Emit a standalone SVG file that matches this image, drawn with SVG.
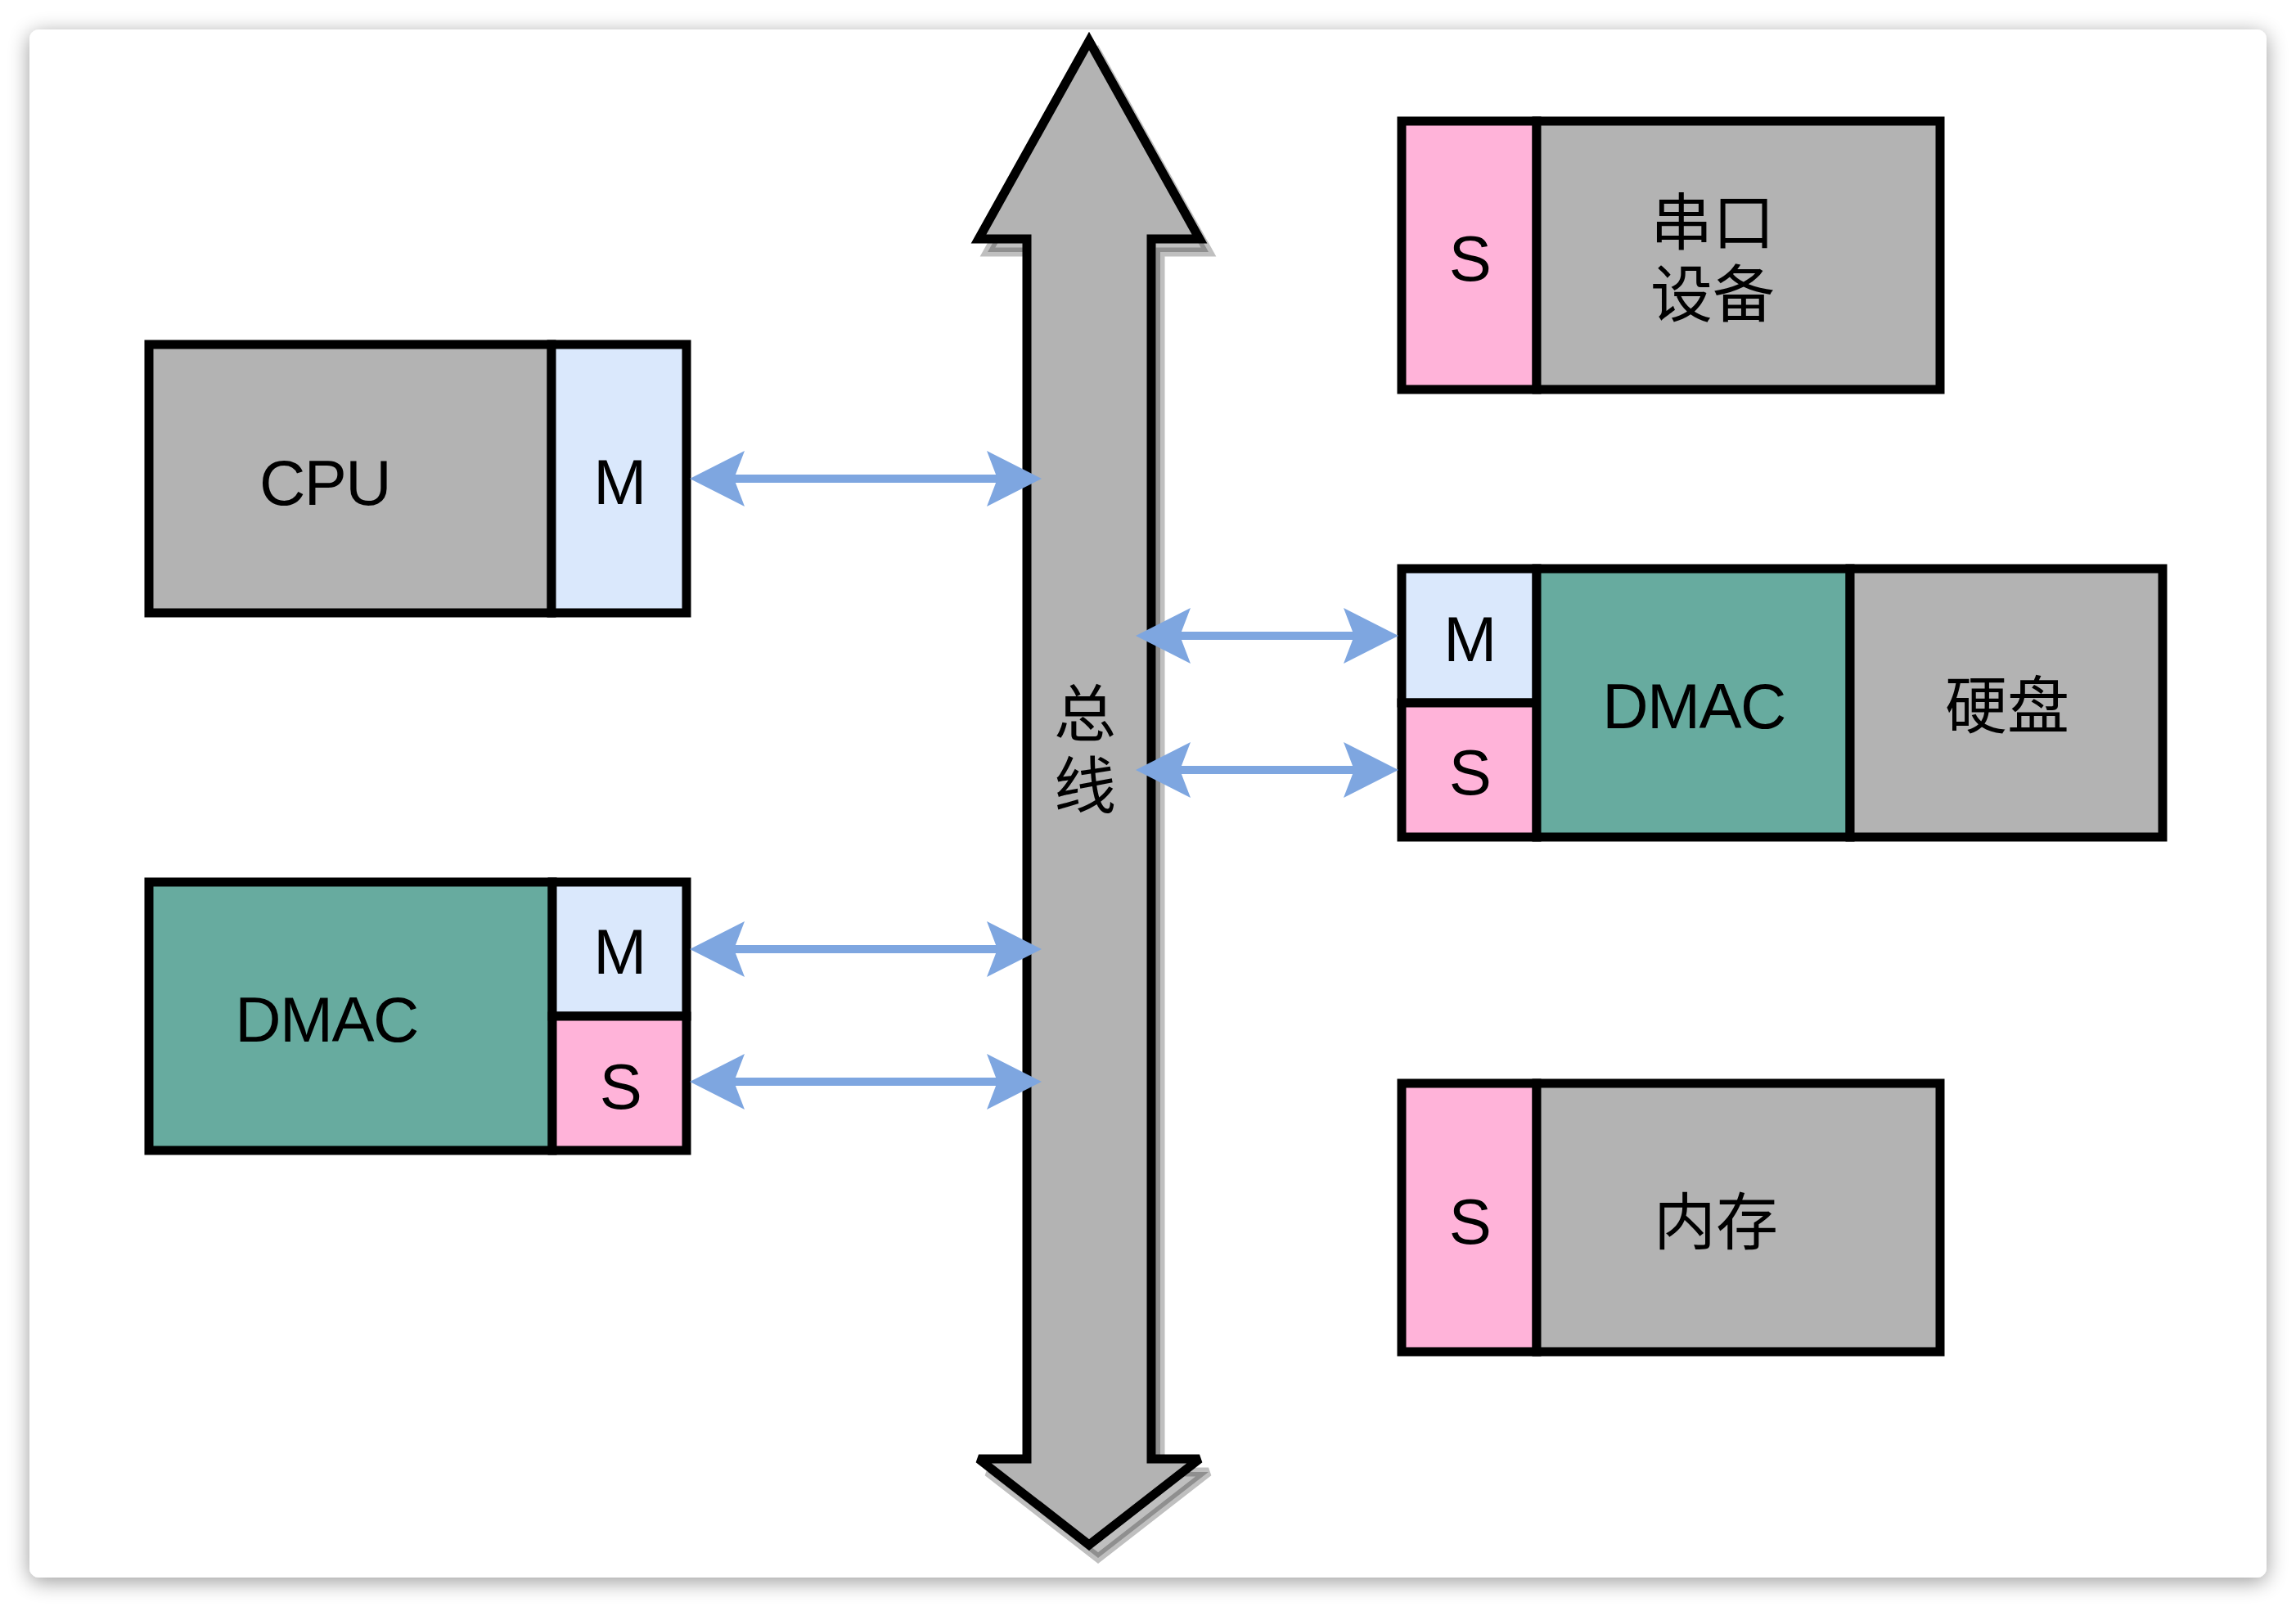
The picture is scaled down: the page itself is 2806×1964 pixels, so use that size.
<svg xmlns="http://www.w3.org/2000/svg" width="2806" height="1964" viewBox="0 0 2806 1964">
<style>
.box{stroke:#000;stroke-width:11;stroke-linejoin:miter}
.gray{fill:#b3b3b3}
.blue{fill:#dae8fc}
.pink{fill:#ffb3d9}
.teal{fill:#67ab9f}
.lat{font-family:"Liberation Sans",Arial,sans-serif;font-size:78px;letter-spacing:-1.5px;fill:#000;text-anchor:middle}
.cjk{font-family:"Noto Sans CJK SC","Noto Sans",sans-serif;font-size:76px;fill:#000;text-anchor:middle}
.conn{stroke:#7ea6e0;stroke-width:10;fill:none}
</style>
<defs>
<filter id="cardShadow" x="-5%" y="-5%" width="110%" height="110%">
<feGaussianBlur in="SourceAlpha" stdDeviation="13"/>
<feOffset dx="0" dy="5" result="b"/>
<feComponentTransfer><feFuncA type="linear" slope="0.4"/></feComponentTransfer>
<feMerge><feMergeNode/><feMergeNode in="SourceGraphic"/></feMerge>
</filter>
<marker id="ah" viewBox="0 -34 67 68" refX="13" refY="0" markerWidth="67" markerHeight="68" markerUnits="userSpaceOnUse" orient="auto-start-reverse">
<path d="M67 0 L0 -34 L13 0 L0 34 Z" fill="#7ea6e0"/>
</marker>
</defs>
<rect width="2806" height="1964" fill="#ffffff"/>
<rect x="36" y="36" width="2734" height="1892" rx="12" fill="#ffffff" filter="url(#cardShadow)"/>

<g id="bus">
<path d="M1331 50 L1466 292 L1407 292 L1407 1783 L1466 1783 L1331 1888 L1196 1783 L1255 1783 L1255 292 L1196 292 Z" fill="#000" fill-opacity="0.25" stroke="#000" stroke-opacity="0.25" stroke-width="11" stroke-linejoin="miter" stroke-miterlimit="2.5" transform="translate(11,16)"/>
<path d="M1331 50 L1466 292 L1407 292 L1407 1783 L1466 1783 L1331 1888 L1196 1783 L1255 1783 L1255 292 L1196 292 Z" class="gray" stroke="#000" stroke-width="11" stroke-linejoin="miter" stroke-miterlimit="2.5"/>
<text class="cjk" x="1326" y="900">总<tspan x="1326" y="988">线</tspan></text>
</g>

<g id="cpu">
<rect class="box gray" x="182" y="421" width="492" height="328"/>
<rect class="box blue" x="674" y="421" width="165" height="328"/>
<text class="lat" x="397" y="617">CPU</text>
<text class="lat" x="757" y="616">M</text>
</g>

<g id="dmac-left">
<rect class="box teal" x="182" y="1078" width="493" height="328"/>
<rect class="box blue" x="675" y="1078" width="164" height="164"/>
<rect class="box pink" x="675" y="1242" width="164" height="164"/>
<text class="lat" x="399" y="1273">DMAC</text>
<text class="lat" x="757" y="1190">M</text>
<text class="lat" x="758" y="1355">S</text>
</g>

<g id="serial">
<rect class="box pink" x="1713" y="148" width="165" height="328"/>
<rect class="box gray" x="1878" y="148" width="493" height="328"/>
<text class="lat" x="1796" y="343">S</text>
<text class="cjk" x="2093" y="299">串口<tspan x="2093" y="387">设备</tspan></text>
</g>

<g id="disk">
<rect class="box blue" x="1713" y="695" width="165" height="164"/>
<rect class="box pink" x="1713" y="859" width="165" height="164"/>
<rect class="box teal" x="1878" y="695" width="383" height="328"/>
<rect class="box gray" x="2261" y="695" width="382" height="328"/>
<text class="lat" x="1796" y="808">M</text>
<text class="lat" x="1796" y="971">S</text>
<text class="lat" x="2070" y="890">DMAC</text>
<text class="cjk" x="2453" y="890">硬盘</text>
</g>

<g id="memory">
<rect class="box pink" x="1713" y="1324" width="165" height="328"/>
<rect class="box gray" x="1878" y="1324" width="493" height="328"/>
<text class="lat" x="1796" y="1520">S</text>
<text class="cjk" x="2097" y="1521">内存</text>
</g>

<g id="connectors">
<line class="conn" x1="897" y1="585" x2="1219" y2="585" marker-start="url(#ah)" marker-end="url(#ah)"/>
<line class="conn" x1="897" y1="1160" x2="1219" y2="1160" marker-start="url(#ah)" marker-end="url(#ah)"/>
<line class="conn" x1="897" y1="1322" x2="1219" y2="1322" marker-start="url(#ah)" marker-end="url(#ah)"/>
<line class="conn" x1="1442" y1="777" x2="1655" y2="777" marker-start="url(#ah)" marker-end="url(#ah)"/>
<line class="conn" x1="1442" y1="941" x2="1655" y2="941" marker-start="url(#ah)" marker-end="url(#ah)"/>
</g>
</svg>
